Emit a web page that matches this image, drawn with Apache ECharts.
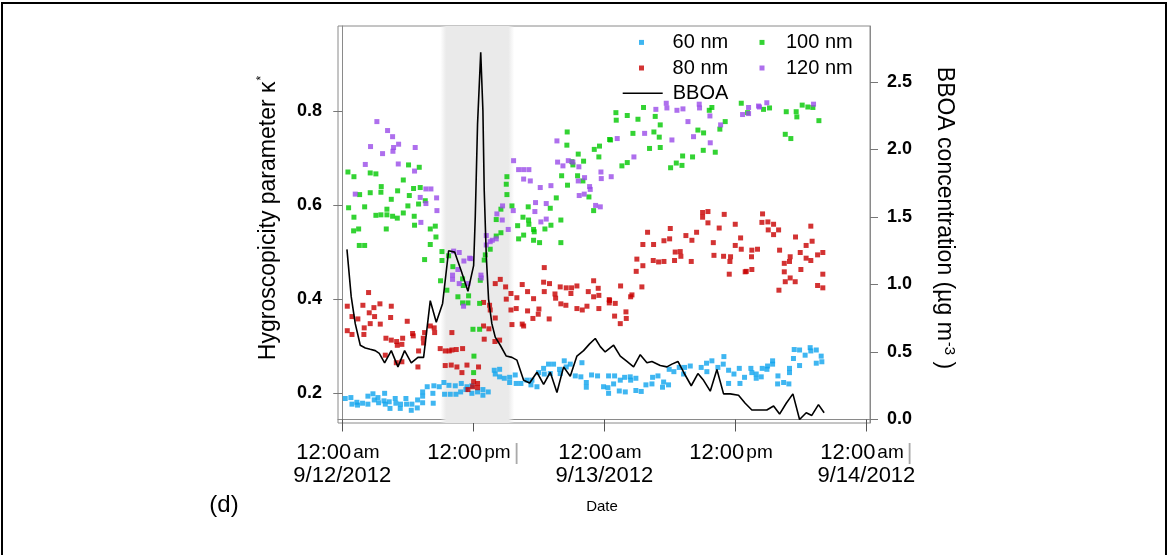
<!DOCTYPE html>
<html><head><meta charset="utf-8">
<script src="https://cdn.jsdelivr.net/npm/echarts@6.0.0/dist/echarts.min.js"></script>
<style>html,body{margin:0;padding:0;background:#fff}#c{width:1169px;height:555px}</style>
</head><body><div id="c"></div>
<script>
// x axis: hours since 12:00 am 9/12/2012
const xTickHours = [0, 12, 24, 36, 48];
const xTickTimes = ['12:00', '12:00', '12:00', '12:00', '12:00'];
const xTickAmPm = ['am', 'pm', 'am', 'pm', 'am'];
const xTickDates = ['9/12/2012', '', '9/13/2012', '', '9/14/2012'];
const xTickBars = [false, true, false, false, true];
const kappaTicks = [0.2, 0.4, 0.6, 0.8];
const bboaTicks = [0, 0.5, 1.0, 1.5, 2.0, 2.5];
const smokeWindow = [8.97, 15.75];

const kappa60 = [[0.27,0.189],[0.79,0.191],[0.89,0.177],[1.34,0.181],[1.40,0.175],[1.86,0.179],[2.35,0.194],[2.35,0.177],[2.81,0.199],[2.93,0.186],[3.27,0.191],[3.33,0.180],[3.88,0.200],[3.82,0.184],[3.94,0.177],[4.30,0.182],[4.37,0.168],[4.85,0.189],[4.91,0.179],[5.34,0.177],[5.31,0.168],[5.83,0.189],[5.89,0.177],[6.38,0.177],[6.32,0.164],[6.90,0.186],[6.87,0.169],[7.36,0.203],[7.36,0.194],[7.36,0.180],[7.78,0.214],[8.30,0.200],[8.33,0.179],[8.39,0.216],[8.88,0.214],[9.31,0.223],[9.37,0.198],[9.77,0.217],[9.89,0.198],[10.35,0.216],[10.41,0.198],[10.90,0.221],[10.84,0.203],[11.42,0.214],[11.32,0.208],[11.87,0.200],[11.87,0.216],
[12.39,0.203],[12.88,0.208],[12.88,0.196],[13.37,0.203],[13.92,0.249],[14.41,0.251],[14.01,0.241],[14.41,0.235],[14.84,0.232],[15.33,0.234],[15.33,0.223],[15.84,0.239],[15.93,0.221],[16.36,0.221],[16.91,0.228],[17.37,0.228],[17.83,0.214],[17.28,0.218],[17.98,0.244],[18.44,0.253],[18.89,0.262],[18.5,0.241],[19.05,0.242],[19.35,0.262],[19.9,0.251],[20.33,0.269],[20.51,0.256],[19.96,0.242],[20.88,0.262],[21.95,0.265],[21.34,0.237],[21.85,0.235],[22.35,0.223],[22.35,0.213],[22.83,0.239],[23.38,0.237],[23.93,0.214],[24.39,0.237],[24.39,0.200],
[24.94,0.237],[25.46,0.228],[25.86,0.234],[26.37,0.235],[26.89,0.232],[26.41,0.228],[24.33,0.212],[24.85,0.220],[25.37,0.205],[25.92,0.203],[26.89,0.206],[27.38,0.204],[27.81,0.218],[28.36,0.220],[28.42,0.234],[28.91,0.237],[29.43,0.224],[29.33,0.213],[29.88,0.218],[29.94,0.251],[30.37,0.246],[30.86,0.255],[31.35,0.255],[31.87,0.258],[31.26,0.241],[32.87,0.255],[33.36,0.264],[33.85,0.269],[33.39,0.246],[34.4,0.255],[34.95,0.278],[34.89,0.262],[35.38,0.249],[35.87,0.241],[36.36,0.253],[36.84,0.234],[35.38,0.221],[36.42,0.221],
[37.42,0.253],[37.51,0.244],[37.91,0.241],[37.91,0.232],[38.37,0.235],[38.46,0.253],[38.95,0.258],[38.89,0.251],[39.41,0.269],[39.41,0.262],[39.9,0.237],[39.87,0.220],[40.42,0.223],[40.9,0.220],[40.96,0.253],[40.96,0.244],[41.32,0.274],[41.39,0.293],[41.88,0.292],[41.88,0.259],[42.39,0.281],[42.85,0.297],[42.91,0.290],[43.41,0.292],[43.41,0.264],[43.86,0.279],[43.92,0.267]];

const kappa80 = [[2.41,0.414],[0.46,0.385],[1.89,0.387],[3.45,0.390],[4.49,0.385],[2.90,0.382],[2.47,0.371],[0.89,0.363],[1.43,0.358],[2.96,0.363],[4.43,0.361],[3.48,0.347],[2.56,0.348],[5.95,0.353],[2.01,0.339],[0.46,0.333],[0.89,0.325],[1.98,0.325],[6.44,0.327],[6.50,0.322],[8.06,0.343],[8.42,0.339],[7.54,0.329],[8.46,0.329],[4.00,0.317],[4.49,0.313],[4.98,0.310],[5.53,0.317],[5.04,0.302],[5.46,0.304],[7.42,0.317],[7.45,0.307],[3.94,0.281],[4.95,0.265],[5.46,0.267],[6.93,0.256],[6.99,0.290],[10.04,0.329],[8.97,0.295],[9.43,0.290],[9.80,0.290],[10.04,0.292],[10.44,0.293],[11.02,0.295],[9.43,0.259],[9.98,0.260],[10.50,0.256],[11.42,0.260],[10.96,0.244],[12.03,0.225],[11.94,0.214],[11.51,0.208],
[18.5,0.467],[14.01,0.433],[14.47,0.442],[14.96,0.426],[15.45,0.412],[15.02,0.400],[15.99,0.403],[16.48,0.431],[16.97,0.416],[17.52,0.401],[18.44,0.436],[18.98,0.433],[18.5,0.416],[19.48,0.411],[19.54,0.402],[19.96,0.426],[20.51,0.424],[21.0,0.424],[21.49,0.428],[20.94,0.412],[20.02,0.390],[20.48,0.387],[21.49,0.380],[21.98,0.377],[22.41,0.385],[23.02,0.439],[23.44,0.423],[22.53,0.416],[23.02,0.405],[23.5,0.408],[23.5,0.380],[24.48,0.397],[15.45,0.377],[15.93,0.380],[16.97,0.375],[18.01,0.379],[17.95,0.368],[17.46,0.359],[18.95,0.358],[15.54,0.346],[16.48,0.347],[16.61,0.343],[12.94,0.393],[13.49,0.387],[13.55,0.377],[14.01,0.360],[12.94,0.343],[13.43,0.337],[14.41,0.313],[13.98,0.310],[13.0,0.315],[12.48,0.256],[12.39,0.221],[12.39,0.212],
[33.0,0.584],[33.49,0.586],[33.0,0.574],[33.49,0.562],[34.98,0.580],[35.99,0.559],[30.04,0.550],[34.52,0.551],[27.96,0.542],[29.98,0.528],[31.47,0.535],[32.45,0.542],[32.02,0.525],[29.46,0.524],[27.53,0.516],[28.51,0.516],[33.98,0.520],[36.48,0.530],[35.99,0.514],[36.54,0.506],[30.49,0.500],[30.95,0.501],[31.01,0.491],[28.48,0.482],[28.97,0.479],[29.46,0.480],[30.43,0.482],[31.96,0.480],[34.04,0.493],[34.92,0.491],[35.56,0.490],[35.5,0.480],[26.98,0.485],[27.53,0.471],[26.92,0.459],[36.9,0.458],[35.44,0.453],[25.49,0.428],[27.44,0.426],[26.53,0.409],[26.41,0.405],[24.45,0.399],[24.45,0.392],[25.0,0.391],[25.98,0.373],[24.94,0.364],[26.01,0.359],[25.46,0.348],
[38.49,0.581],[38.98,0.564],[39.5,0.559],[38.43,0.563],[39.01,0.547],[39.5,0.537],[39.96,0.547],[42.91,0.555],[41.51,0.532],[43.03,0.523],[37.51,0.504],[38.03,0.506],[40.05,0.504],[41.94,0.499],[42.48,0.514],[41.02,0.490],[40.96,0.480],[40.48,0.476],[42.48,0.487],[42.91,0.482],[43.53,0.494],[44.01,0.499],[37.48,0.490],[37.0,0.459],[37.51,0.463],[40.48,0.458],[42.0,0.463],[41.02,0.445],[40.57,0.437],[41.48,0.437],[44.01,0.453],[43.53,0.429],[44.01,0.424],[39.99,0.419]];

const kappa100 = [[0.52,0.670],[1.07,0.660],[2.56,0.668],[3.08,0.666],[6.07,0.685],[7.05,0.680],[5.59,0.653],[3.57,0.639],[2.56,0.626],[3.54,0.627],[5.07,0.630],[6.53,0.635],[7.14,0.637],[1.59,0.622],[4.49,0.612],[6.14,0.620],[7.60,0.609],[6.99,0.602],[0.58,0.594],[2.05,0.596],[4.09,0.591],[6.01,0.598],[1.07,0.574],[3.08,0.578],[3.54,0.579],[4.09,0.579],[4.61,0.576],[5.04,0.572],[5.59,0.583],[6.59,0.576],[6.62,0.557],[4.03,0.549],[1.50,0.549],[1.04,0.545],[8.06,0.549],[8.52,0.555],[8.58,0.532],[1.56,0.514],[2.05,0.514],[8.06,0.516],[7.54,0.484],[9.13,0.501],[9.13,0.482],[9.74,0.492],[10.13,0.469],[9.00,0.439],[9.58,0.419],[11.02,0.443],[11.08,0.429],[10.59,0.405],[11.57,0.407],[11.51,0.392],[11.02,0.392],[11.97,0.336],[12.06,0.279],[12.03,0.244],
[20.6,0.755],[20.57,0.727],[23.56,0.725],[23.08,0.718],[23.5,0.702],[24.48,0.739],[21.61,0.708],[22.1,0.693],[21.03,0.692],[21.12,0.685],[20.09,0.662],[21.55,0.662],[22.04,0.651],[20.63,0.642],[15.08,0.660],[15.02,0.644],[15.08,0.622],[19.6,0.615],[19.05,0.593],[22.59,0.617],[23.02,0.588],[15.54,0.598],[14.53,0.591],[14.1,0.569],[17.03,0.596],[16.55,0.574],[17.06,0.568],[17.09,0.559],[16.06,0.556],[17.52,0.548],[17.58,0.543],[18.56,0.549],[19.11,0.557],[20.02,0.568],[16.61,0.536],[16.15,0.528],[17.52,0.525],[18.07,0.520],[20.02,0.520],[14.53,0.541],[14.1,0.534],[13.55,0.506],[13.1,0.494],[13.0,0.483],[12.64,0.440],[12.58,0.391],[12.58,0.336],
[25.06,0.796],[25.09,0.780],[26.1,0.790],[27.08,0.782],[27.59,0.807],[28.66,0.788],[29.12,0.770],[28.54,0.755],[29.03,0.744],[26.62,0.752],[24.57,0.738],[28.14,0.720],[29.12,0.722],[32.57,0.759],[33.09,0.753],[33.85,0.807],[33.61,0.801],[35.07,0.777],[34.58,0.761],[34.16,0.712],[33.06,0.716],[31.17,0.704],[32.08,0.702],[31.11,0.684],[30.59,0.689],[30.07,0.679],[26.1,0.690],[25.61,0.683],[36.54,0.816],
[37.12,0.796],[38.58,0.803],[39.13,0.806],[40.66,0.798],[41.57,0.798],[41.63,0.787],[42.12,0.812],[42.64,0.808],[43.1,0.807],[43.65,0.779],[40.57,0.750],[41.08,0.741]];

const kappa120 = [[3.17,0.777],[4.15,0.758],[4.61,0.745],[5.16,0.729],[2.59,0.724],[4.70,0.722],[4.64,0.714],[3.69,0.709],[6.68,0.722],[2.11,0.686],[5.13,0.687],[6.62,0.672],[1.19,0.623],[7.66,0.634],[8.12,0.634],[7.14,0.616],[8.64,0.615],[7.66,0.603],[7.20,0.563],[8.67,0.588],[10.20,0.502],[10.71,0.499],[11.14,0.481],[11.66,0.487],[10.59,0.463],[10.10,0.451],[10.10,0.442],[10.71,0.433],[11.11,0.385],[11.51,0.433],
[15.69,0.694],[16.15,0.675],[16.61,0.675],[17.09,0.675],[16.61,0.655],[17.22,0.651],[18.13,0.637],[19.11,0.641],[19.66,0.736],[19.72,0.691],[20.21,0.683],[20.70,0.694],[21.12,0.691],[21.67,0.681],[22.19,0.658],[21.61,0.651],[22.65,0.639],[22.71,0.633],[23.69,0.670],[23.72,0.656],[21.70,0.620],[22.16,0.623],[23.20,0.599],[23.63,0.596],[17.70,0.605],[17.64,0.586],[18.68,0.603],[18.68,0.570],[18.19,0.564],[15.66,0.588],[14.68,0.598],[14.16,0.581],[14.65,0.568],[15.2,0.548],[13.19,0.535],[13.74,0.525],[14.10,0.528],[13.19,0.515],[13.55,0.522],[12.70,0.451],[12.73,0.445],[11.78,0.486],
[28.72,0.803],[29.67,0.816],[29.73,0.806],[30.65,0.801],[31.2,0.804],[32.69,0.814],[32.72,0.806],[33.67,0.789],[31.66,0.777],[27.69,0.752],[25.18,0.741],[30.19,0.738],[32.17,0.745],[33.7,0.732],[34.65,0.770],[36.66,0.792],[26.71,0.702],[24.63,0.660],
[37.21,0.807],[37.21,0.794],[38.12,0.810],[38.21,0.808],[38.88,0.817],[43.16,0.814]];

const bboa = [[0.43,1.26],[0.82,0.91],[1.19,0.71],[1.65,0.55],[2.11,0.53],[2.56,0.52],[3.02,0.51],[3.39,0.49],[3.88,0.42],[4.49,0.51],[5.10,0.39],[5.71,0.51],[6.32,0.42],[6.93,0.46],[7.45,0.46],[8.06,0.88],[8.61,0.72],[9.19,0.86],[9.74,1.25],[10.29,1.24],[10.90,1.10],[11.51,0.95],[12.03,1.14],[12.18,1.50],[12.39,2.19],[12.68,2.72],[12.88,2.29],[13.0,1.70],[13.19,1.21],[13.4,0.89],[13.7,0.71],[14.01,0.61],[14.47,0.55],[15.02,0.47],[15.54,0.46],[15.99,0.44],[16.61,0.29],[17.16,0.27],[17.83,0.35],[18.44,0.26],[19.05,0.35],[19.66,0.20],[20.27,0.39],[20.88,0.32],[21.49,0.47],[22.1,0.51],[22.65,0.56],[23.17,0.60],[23.63,0.54],[24.08,0.50],[24.85,0.55],[25.46,0.47],[26.07,0.43],[26.68,0.39],[27.29,0.48],[27.9,0.42],[28.36,0.43],[29.12,0.40],[29.73,0.39],[30.19,0.41],[30.74,0.43],[31.26,0.35],[31.96,0.25],[32.57,0.34],[33.09,0.29],[33.7,0.21],[34.31,0.37],[34.92,0.19],[35.53,0.19],[36.29,0.18],[36.9,0.12],[37.51,0.07],[38.27,0.07],[38.88,0.07],[39.5,0.10],[40.05,0.04],[40.66,0.12],[41.27,0.19],[41.88,0.0],[42.49,0.05],[43.0,0.03],[43.61,0.11],[44.13,0.05]];

const FONT = 'Liberation Sans, Arial, sans-serif';
const chart = echarts.init(document.getElementById('c'), null, {renderer: 'canvas'});

function scatter(name, data, color, size) {
  return {name: name, type: 'scatter', data: data, yAxisIndex: 0, symbol: 'rect', symbolSize: size,
    itemStyle: {color: color}, emphasis: {disabled: true}, z: 3};
}

chart.setOption({
  animation: false,
  backgroundColor: '#fff',
  grid: {left: 338, top: 26, width: 532, height: 397, show: true, borderColor: '#8a8a8a', borderWidth: 1},
  xAxis: {
    type: 'value', min: -0.39, max: 48.33,
    axisLine: {show: true, lineStyle: {color: '#8a8a8a'}},
    splitLine: {show: false},
    axisTick: {show: true, customValues: xTickHours, length: 12, lineStyle: {color: '#555'}},
    axisLabel: {
      customValues: xTickHours, margin: 18, color: '#000',
      formatter: function (v) {
        const i = xTickHours.indexOf(v);
        if (i < 0) return '';
        let s = '{t|' + xTickTimes[i] + '}{a|' + xTickAmPm[i] + '}' + (xTickBars[i] ? '{b||}' : '{h||}');
        if (xTickDates[i]) s += '\n{d|' + xTickDates[i] + '}';
        return s;
      },
      rich: {
        t: {fontFamily: FONT, fontSize: 22, lineHeight: 23, color: '#000'},
        a: {fontFamily: FONT, fontSize: 19, lineHeight: 23, color: '#000', padding: [0, 0, 0, 2]},
        b: {fontFamily: FONT, fontSize: 22, lineHeight: 23, color: '#aaa', padding: [0, 0, 0, 3]},
        h: {fontFamily: FONT, fontSize: 22, lineHeight: 23, color: 'rgba(0,0,0,0)', padding: [0, 0, 0, 3]},
        d: {fontFamily: FONT, fontSize: 22, lineHeight: 23, color: '#000'}
      }
    }
  },
  yAxis: [{
    type: 'value', min: 0.137, max: 0.98, position: 'left',
    axisLine: {show: true, lineStyle: {color: '#8a8a8a'}},
    splitLine: {show: false},
    axisTick: {show: true, customValues: kappaTicks, length: 9, lineStyle: {color: '#777'}},
    axisLabel: {customValues: kappaTicks, margin: 16, color: '#000', fontFamily: FONT, fontSize: 18, fontWeight: 'bold',
      formatter: function (v) { return v.toFixed(1); }}
  }, {
    type: 'value', min: -0.026, max: 2.915, position: 'right',
    axisLine: {show: true, lineStyle: {color: '#8a8a8a'}},
    splitLine: {show: false},
    axisTick: {show: true, customValues: bboaTicks, length: 8, lineStyle: {color: '#777'}},
    axisLabel: {customValues: bboaTicks, margin: 17, color: '#000', fontFamily: FONT, fontSize: 18, fontWeight: 'bold',
      formatter: function (v) { return v.toFixed(1); }}
  }],
  legend: [{
    data: ['60 nm', '80 nm'], orient: 'vertical', left: 639, top: 32.4, padding: 0, selectedMode: false,
    icon: 'rect', itemWidth: 5, itemHeight: 5, itemGap: 5.6,
    textStyle: {fontFamily: FONT, fontSize: 20, lineHeight: 20, color: '#000', padding: [0, 0, 0, 23.6]}
  }, {
    data: ['100 nm', '120 nm'], orient: 'vertical', left: 759.5, top: 32.4, padding: 0, selectedMode: false,
    icon: 'rect', itemWidth: 5, itemHeight: 5, itemGap: 5.6,
    textStyle: {fontFamily: FONT, fontSize: 20, lineHeight: 20, color: '#000', padding: [0, 0, 0, 16.5]}
  }, {
    data: ['BBOA'], orient: 'vertical', left: 622.7, top: 83.3, padding: 0, selectedMode: false,
    icon: 'rect', itemWidth: 40, itemHeight: 1.6,
    textStyle: {fontFamily: FONT, fontSize: 20, lineHeight: 20, color: '#000', padding: [0, 0, 0, 5]}
  }],
  series: [
    {type: 'scatter', data: [], z: 1, silent: true,
      markArea: {silent: true, itemStyle: {color: new echarts.graphic.LinearGradient(0, 0, 1, 0, [
        {offset: 0, color: 'rgba(234,234,234,0)'}, {offset: 0.08, color: 'rgba(234,234,234,1)'},
        {offset: 0.92, color: 'rgba(234,234,234,1)'}, {offset: 1, color: 'rgba(234,234,234,0)'}])},
        data: [[{xAxis: smokeWindow[0]}, {xAxis: smokeWindow[1]}]]}},
    scatter('60 nm', kappa60, '#0FA4EE', 5),
    scatter('80 nm', kappa80, '#C80000', 5),
    scatter('100 nm', kappa100, '#00C800', 5),
    scatter('120 nm', kappa120, '#9A4BE8', 5),
    {name: 'BBOA', type: 'line', yAxisIndex: 1, data: bboa, showSymbol: false, symbol: 'none',
      lineStyle: {color: '#000', width: 1.6}, itemStyle: {color: '#000'}, z: 4, emphasis: {disabled: true}}
  ],
  graphic: [
    {type: 'rect', silent: true, shape: {x: 2, y: 3, width: 1164, height: 600}, style: {fill: null, stroke: '#000', lineWidth: 2}},
    {type: 'text', silent: true, x: 269, y: 218, rotation: Math.PI / 2,
      style: {text: 'Hygroscopicity parameter κ{s|*}', fontFamily: FONT, fontSize: 23, fill: '#000', align: 'center', verticalAlign: 'middle',
        rich: {s: {fontFamily: FONT, fontSize: 12, verticalAlign: 'top', lineHeight: 26, padding: [0, 0, 10, 1]}}}},
    {type: 'text', silent: true, x: 944, y: 218, rotation: -Math.PI / 2,
      style: {text: 'BBOA concentration (µg m{s|-3} )', fontFamily: FONT, fontSize: 23, fill: '#000', align: 'center', verticalAlign: 'middle',
        rich: {s: {fontFamily: FONT, fontSize: 15, verticalAlign: 'top', lineHeight: 26, padding: [0, 0, 12, 1]}}}},
    {type: 'text', silent: true, x: 224, y: 505, style: {text: '(d)', fontFamily: FONT, fontSize: 24, fill: '#000', align: 'center', verticalAlign: 'middle'}},
    {type: 'text', silent: true, x: 602, y: 507, style: {text: 'Date', fontFamily: FONT, fontSize: 15, fill: '#000', align: 'center', verticalAlign: 'middle'}}
  ]
});
</script>
</body></html>
